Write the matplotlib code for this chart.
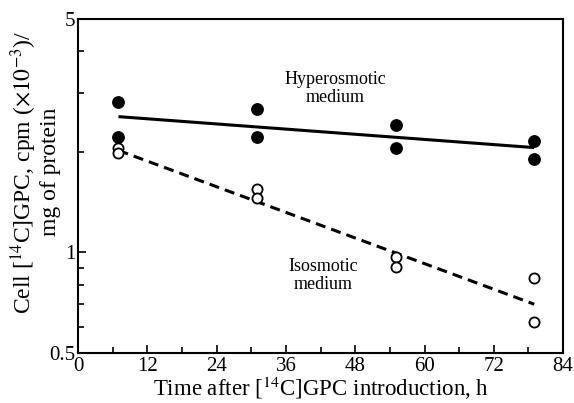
import numpy as np
import matplotlib.pyplot as plt
from matplotlib.ticker import FixedLocator, NullFormatter, MultipleLocator

plt.rcParams['font.family'] = ['Liberation Serif', 'DejaVu Serif']
plt.rcParams['mathtext.fontset'] = 'stix'

# -----------------------------
# data
# -----------------------------
time_h = [7, 7, 31, 31, 55, 55, 79, 79]
hyper = [2.83, 2.21, 2.69, 2.22, 2.40, 2.05, 2.16, 1.91]
iso = [2.06, 1.99, 1.545, 1.46, 0.967, 0.903, 0.837, 0.619]

# fitted lines (end points)
fit_t = [7, 79]
hyper_fit = [2.55, 2.06]
iso_fit = [2.02, 0.70]

fig = plt.figure(figsize=(5.74, 4.03), dpi=100)
ax = fig.add_axes([0.136, 0.124, 0.845, 0.829])

ax.plot(fit_t, hyper_fit, color='black', lw=2.2, solid_capstyle='butt')
ax.plot(fit_t, iso_fit, color='black', lw=2.2, ls=(0, (3.3, 2.0)))
ax.plot(time_h, hyper, 'o', color='black', ms=8.2, zorder=3)
ax.plot(time_h, iso, 'o', mfc='white', mec='black', mew=1.3, ms=7.3, zorder=3)

ax.set_yscale('log')
ax.set_ylim(0.5, 5)
ax.set_xlim(0, 84)
ax.yaxis.set_major_locator(FixedLocator([0.5, 1, 5]))
ax.yaxis.set_major_formatter(plt.FixedFormatter(['0.5', '1', '5']))
ax.yaxis.set_minor_locator(FixedLocator([0.6, 0.7, 0.8, 0.9, 2, 3, 4]))
ax.yaxis.set_minor_formatter(NullFormatter())
ax.xaxis.set_major_locator(MultipleLocator(12))
ax.xaxis.set_minor_locator(MultipleLocator(6))

ax.tick_params(which='both', direction='in', labelsize=15, width=1.2)
ax.tick_params(which='major', length=6)
ax.tick_params(which='minor', length=4)
ax.tick_params(axis='x', pad=3)
ax.tick_params(axis='y', pad=2)
for s in ax.spines.values():
    s.set_linewidth(1.5)

ax.set_xlabel('Time after [$^{14}$C]GPC introduction, h', fontsize=16.5)
ax.xaxis.set_label_coords(0.5, -0.064)
ax.set_ylabel('Cell [$^{14}$C]GPC, cpm ($\\times10^{-3}$)/\nmg of protein',
              fontsize=17, linespacing=1.05)
ax.yaxis.set_label_coords(-0.036, 0.542)

ax.text(44.6, 3.1, 'Hyperosmotic\nmedium', ha='center', va='center',
        fontsize=13, linespacing=1.05)
ax.text(42.5, 0.855, 'Isosmotic\nmedium', ha='center', va='center',
        fontsize=13, linespacing=1.05)

fig.savefig('out.png', dpi=100)
